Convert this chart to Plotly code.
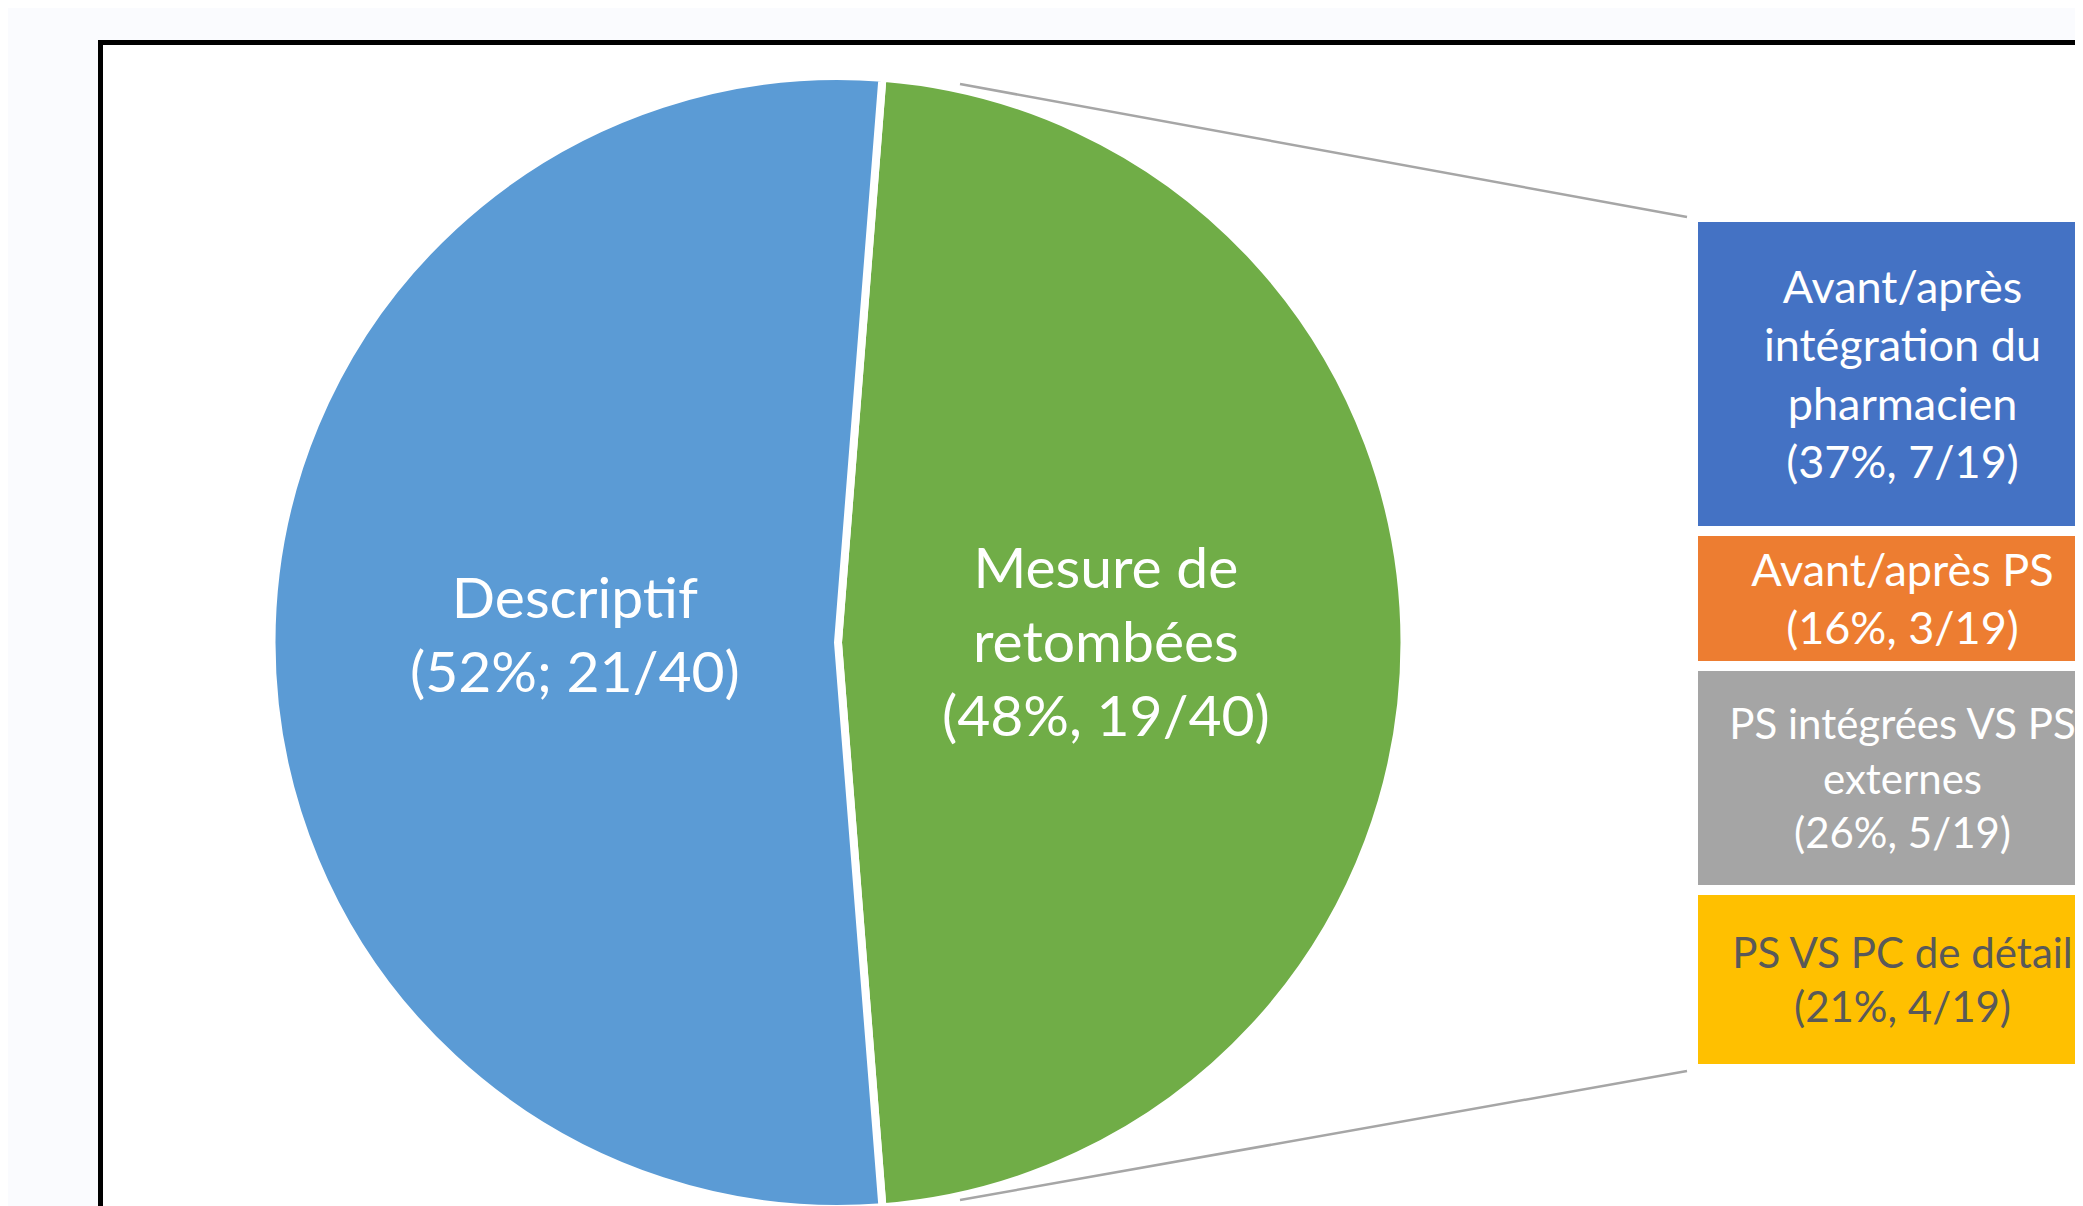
import plotly.graph_objects as go

# ---------------- data ----------------
pie_labels = ["Mesure de retombées", "Descriptif"]
pie_values = [19, 21]
pie_text = ["Mesure de<br>retombées<br>(48%, 19/40)", "Descriptif<br>(52%; 21/40)"]

sub_labels = ["PS VS PC de détail", "PS intégrées VS PS externes",
              "Avant/après PS", "Avant/après intégration du pharmacien"]
sub_values = [4, 5, 3, 7]
sub_text = ["PS VS PC de détail<br>(21%, 4/19)",
            "PS intégrées VS PS<br>externes<br>(26%, 5/19)",
            "Avant/après PS<br>(16%, 3/19)",
            "Avant/après<br>intégration du<br>pharmacien<br>(37%, 7/19)"]

# ---------------- styles ----------------
W, H = 2083, 1206
OFF = 8  # page body margin of the rendered html
pie_colors = ["#70AD47", "#5B9BD5"]
sub_colors = ["#FFC000", "#A5A5A5", "#ED7D31", "#4472C4"]
sub_textcolors = ["#595959", "#FFFFFF", "#FFFFFF", "#FFFFFF"]
sub_textsizes = [42, 42, 45, 45]
FONT = "Lato"


def px(x):
    return (x - OFF) / W


def py(y):
    return min(1.0, max(0.0, 1 - (y - OFF) / H))


fig = go.Figure()

# pie
cx, cy, R = 838, 642.5, 566.5
total = sum(pie_values)
fig.add_trace(go.Pie(
    labels=pie_labels,
    values=pie_values,
    textinfo="none",
    sort=False,
    direction="clockwise",
    rotation=90 - 180 * pie_values[0] / total,
    marker=dict(colors=pie_colors, line=dict(color="white", width=8)),
    domain=dict(x=[px(cx - R), px(cx + R)], y=[py(cy + R), py(cy - R)]),
    showlegend=False,
    hoverinfo="label+value",
))

# stacked bar (pie-of-pie secondary)
for lab, val, txt, col, tcol, tsz in zip(sub_labels, sub_values, sub_text,
                                         sub_colors, sub_textcolors, sub_textsizes):
    fig.add_trace(go.Bar(
        x=[0], y=[val], width=[1], name=lab,
        text=[txt], textposition="inside", insidetextanchor="middle",
        textangle=0, constraintext="none", cliponaxis=False,
        insidetextfont=dict(family=FONT, size=tsz, color=tcol),
        marker=dict(color=col, line=dict(color="white", width=10)),
        showlegend=False, hoverinfo="name+y",
        xaxis="x", yaxis="y",
    ))

# pie labels
label_pos = [(1106, 640), (575, 633)]
annotations = [
    dict(text=t, x=px(lx), y=py(ly), xref="paper", yref="paper",
         xanchor="center", yanchor="middle", showarrow=False,
         font=dict(family=FONT, size=57, color="white"))
    for t, (lx, ly) in zip(pie_text, label_pos)
]

bar_left, bar_right = 1693, 2112
bar_top, bar_bot = 216.7, 1069
ppu = bar_right - bar_left
fig.update_layout(
    width=W, height=H,
    margin=dict(l=0, r=0, t=0, b=0, pad=0),
    paper_bgcolor="#FAFBFE",
    plot_bgcolor="rgba(0,0,0,0)",
    barmode="stack", bargap=0,
    xaxis=dict(domain=[px(bar_left), 1], range=[-0.5, -0.5 + (W + OFF - bar_left) / ppu],
               visible=False, fixedrange=True),
    yaxis=dict(domain=[py(bar_bot), py(bar_top)], range=[0, sum(sub_values)],
               visible=False, fixedrange=True),
    annotations=annotations,
    shapes=[
        # white panel with black frame
        dict(type="rect", xref="paper", yref="paper", layer="below",
             x0=px(100.5), x1=1.05, y0=-0.05, y1=py(42.5),
             fillcolor="white", line=dict(color="black", width=5)),
        # connector lines
        dict(type="line", xref="paper", yref="paper",
             x0=px(960), y0=py(84), x1=px(1687), y1=py(217),
             line=dict(color="#A6A6A6", width=2.5)),
        dict(type="line", xref="paper", yref="paper",
             x0=px(960), y0=py(1200), x1=px(1687), y1=py(1071),
             line=dict(color="#A6A6A6", width=2.5)),
    ],
)

fig.write_html("out.html")
